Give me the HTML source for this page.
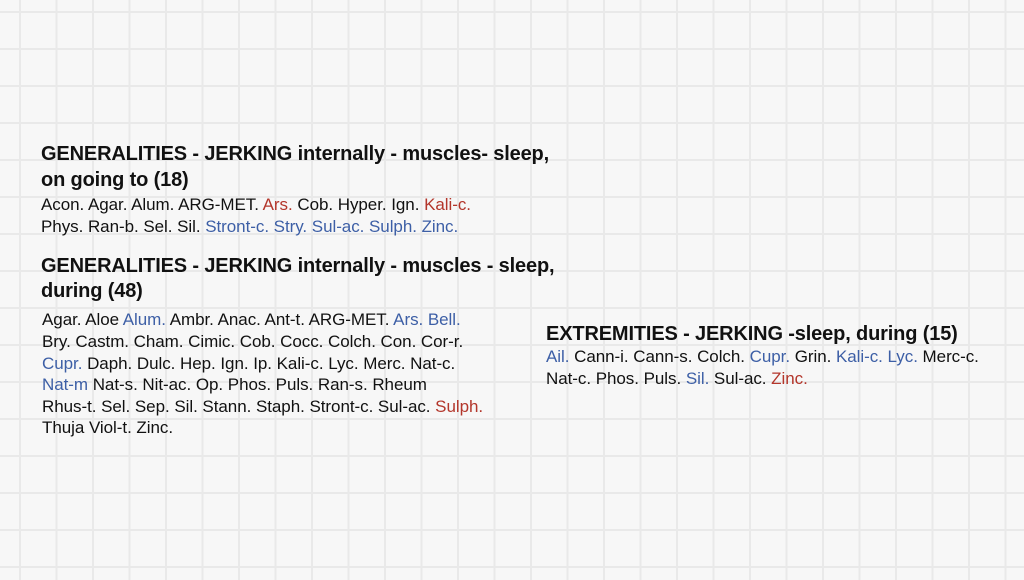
<!DOCTYPE html>
<html><head><meta charset="utf-8"><style>
html,body{margin:0;padding:0}
body{width:1024px;height:580px;overflow:hidden;position:relative;background-color:#f7f7f7;
background-image:linear-gradient(to right,#e9e9e9 2px,transparent 2px),linear-gradient(to bottom,#e9e9e9 2px,transparent 2px);
background-size:36.5px 37px;background-position:19px 11px;font-family:"Liberation Sans",sans-serif;color:#111}
.l{position:absolute;white-space:nowrap;line-height:20px}
.h{font-weight:bold;font-size:20px;letter-spacing:-0.15px}
.b{font-size:17px;letter-spacing:-0.05px}
.r{color:#b3362b}.u{color:#3d5fa6}
</style></head><body>
<div class="l h" style="left:41px;top:144px">GENERALITIES - JERKING internally - muscles- sleep,</div>
<div class="l h" style="left:41px;top:170px">on going to (18)</div>
<div class="l b" style="left:41px;top:195px">Acon. Agar. Alum. ARG-MET. <span class="r">Ars.</span> Cob. Hyper. Ign. <span class="r">Kali-c.</span></div>
<div class="l b" style="left:41px;top:217px">Phys. Ran-b. Sel. Sil. <span class="u">Stront-c. Stry. Sul-ac. Sulph. Zinc.</span></div>

<div class="l h" style="left:41px;top:256px">GENERALITIES - JERKING internally - muscles - sleep,</div>
<div class="l h" style="left:41px;top:281px">during (48)</div>
<div class="l b" style="left:42px;top:310px">Agar. Aloe <span class="u">Alum.</span> Ambr. Anac. Ant-t. ARG-MET. <span class="u">Ars. Bell.</span></div>
<div class="l b" style="left:42px;top:332px">Bry. Castm. Cham. Cimic. Cob. Cocc. Colch. Con. Cor-r.</div>
<div class="l b" style="left:42px;top:354px"><span class="u">Cupr.</span> Daph. Dulc. Hep. Ign. Ip. Kali-c. Lyc. Merc. Nat-c.</div>
<div class="l b" style="left:42px;top:375px"><span class="u">Nat-m</span> Nat-s. Nit-ac. Op. Phos. Puls. Ran-s. Rheum</div>
<div class="l b" style="left:42px;top:397px">Rhus-t. Sel. Sep. Sil. Stann. Staph. Stront-c. Sul-ac. <span class="r">Sulph.</span></div>
<div class="l b" style="left:42px;top:418px">Thuja Viol-t. Zinc.</div>

<div class="l h" style="left:546px;top:324px">EXTREMITIES - JERKING -sleep, during (15)</div>
<div class="l b" style="left:546px;top:347px"><span class="u">Ail.</span> Cann-i. Cann-s. Colch. <span class="u">Cupr.</span> Grin. <span class="u">Kali-c. Lyc.</span> Merc-c.</div>
<div class="l b" style="left:546px;top:369px">Nat-c. Phos. Puls. <span class="u">Sil.</span> Sul-ac. <span class="r">Zinc.</span></div>
</body></html>
